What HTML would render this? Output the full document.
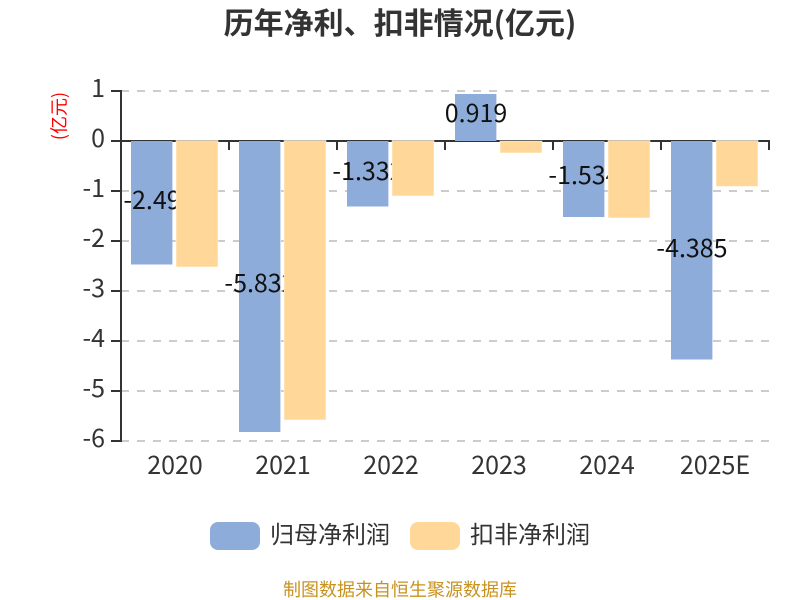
<!DOCTYPE html>
<html><head><meta charset="utf-8"><style>
html,body{margin:0;padding:0;background:#fff}
svg{display:block}
text{font-family:"Liberation Sans","Noto Sans CJK SC",sans-serif}
.n{font-family:"Noto Sans CJK SC","Liberation Sans",sans-serif}
</style></head><body>
<svg width="800" height="600" viewBox="0 0 800 600" xmlns="http://www.w3.org/2000/svg">
<rect width="800" height="600" fill="#fff"/>
<text class="n" x="400" y="34" text-anchor="middle" font-size="30" font-weight="700" fill="#333">历年净利、扣非情况(亿元)</text>
<g stroke="#ccc" stroke-width="2" stroke-dasharray="8 8">
<line x1="121" x2="769" y1="91" y2="91"/><line x1="121" x2="769" y1="191" y2="191"/><line x1="121" x2="769" y1="241" y2="241"/><line x1="121" x2="769" y1="291" y2="291"/><line x1="121" x2="769" y1="341" y2="341"/><line x1="121" x2="769" y1="391" y2="391"/><line x1="121" x2="769" y1="441" y2="441"/>
</g>
<g stroke="#333" stroke-width="2" fill="none">
<path d="M121 90V442"/>
<path d="M111 91H121M111 141H121M111 191H121M111 241H121M111 291H121M111 341H121M111 391H121M111 441H121"/>
<path d="M120 141H770"/>
<path d="M229 141V150M337 141V150M445 141V150M553 141V150M661 141V150M769 141V150"/>
</g>
<g class="n" font-size="25" fill="#333" text-anchor="end">
<text class="n" x="105" y="97">1</text><text class="n" x="105" y="147">0</text><text class="n" x="105" y="197">-1</text><text class="n" x="105" y="247">-2</text><text class="n" x="105" y="297">-3</text><text class="n" x="105" y="347">-4</text><text class="n" x="105" y="397">-5</text><text class="n" x="105" y="447">-6</text>
</g>
<g fill="#8eacd9">
<rect x="131" y="141" width="41.4" height="123.5"/>
<rect x="239" y="141" width="41.4" height="291"/>
<rect x="347" y="141" width="41.4" height="65.5"/>
<rect x="455" y="94" width="41.4" height="47"/>
<rect x="563" y="141" width="41.4" height="76"/>
<rect x="671" y="141" width="41.4" height="218.5"/>
</g>
<g class="n" font-size="25" fill="#111" text-anchor="middle">
<text class="n" x="152" y="209">-2.49</text>
<text class="n" x="260" y="292">-5.832</text>
<text class="n" x="368" y="180">-1.332</text>
<text class="n" x="476" y="122">0.919</text>
<text class="n" x="584" y="184">-1.534</text>
<text class="n" x="692" y="257">-4.385</text>
</g>
<g fill="#ffd899" stroke="#fff" stroke-opacity=".5" stroke-width="1">
<rect x="176" y="140.5" width="42" height="126.5"/>
<rect x="284" y="140.5" width="42" height="279.5"/>
<rect x="392" y="140.5" width="42" height="55.5"/>
<rect x="500" y="141" width="42" height="12"/>
<rect x="608" y="140.5" width="42" height="77.5"/>
<rect x="716" y="140.5" width="42" height="46"/>
</g>
<g class="n" font-size="25" fill="#333" text-anchor="middle">
<text class="n" x="175" y="474">2020</text><text class="n" x="283" y="474">2021</text><text class="n" x="391" y="474">2022</text><text class="n" x="499" y="474">2023</text><text class="n" x="607" y="474">2024</text><text class="n" x="715" y="474">2025E</text>
</g>
<text class="n" transform="translate(65.5 116) rotate(-90)" text-anchor="middle" font-size="18" fill="#f00">(亿元)</text>
<rect x="210" y="522" width="50" height="28" rx="8" fill="#8eacd9"/>
<text class="n" x="270" y="543" font-size="24" fill="#333">归母净利润</text>
<rect x="410" y="522" width="50" height="28" rx="8" fill="#ffd899"/>
<text class="n" x="470" y="543" font-size="24" fill="#333">扣非净利润</text>
<text class="n" x="400" y="596" text-anchor="middle" font-size="18" fill="#c8921e">制图数据来自恒生聚源数据库</text>
</svg>
</body></html>
